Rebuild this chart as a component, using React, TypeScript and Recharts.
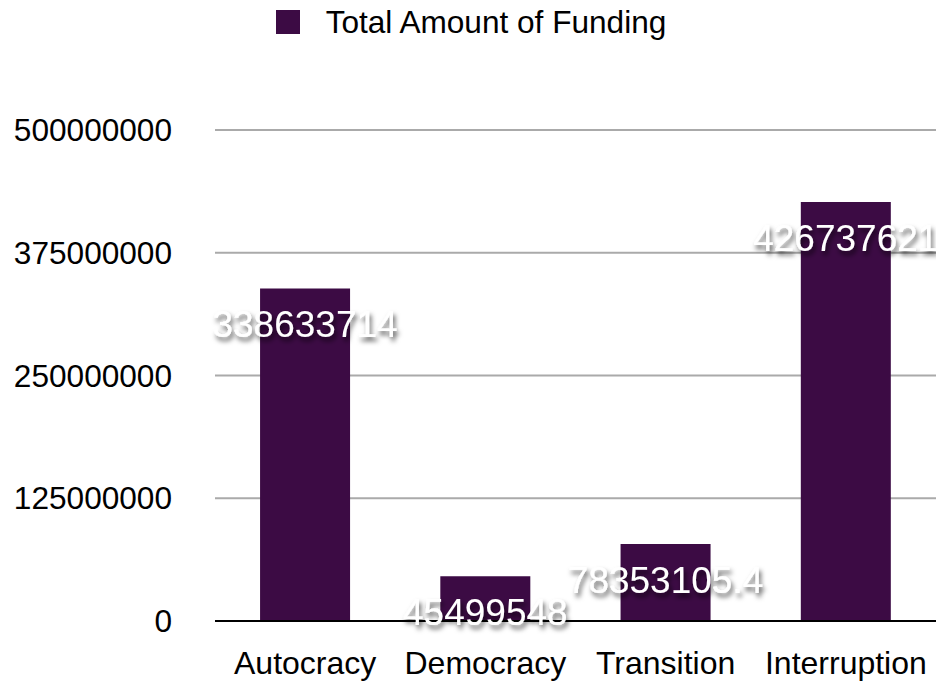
import { BarChart, Bar, CartesianGrid, XAxis, YAxis, Legend, LabelList } from 'recharts';

const categories = ['Autocracy', 'Democracy', 'Transition', 'Interruption'];
const funding = [338633714, 45499548, 78353105.4, 426737621];
const yTicks = [0, 125000000, 250000000, 375000000, 500000000];

const data = categories.map((name, i) => ({ name, funding: funding[i] }));

const FONT = '"Liberation Sans", Arial, Helvetica, sans-serif';
const BAR_COLOR = '#3c0b44';

const renderLabel = (props: any) => {
    const { x, y, width, value } = props;
    return (
        <text
            x={Number(x) + Number(width) / 2}
            y={Number(y) + 49}
            textAnchor="middle"
            fill="#ffffff"
            fontSize={37}
            fontFamily={FONT}
            filter="url(#labelShadow)"
        >
            {value}
        </text>
    );
};

const renderLegend = () => (
    <div style={{ display: 'flex', alignItems: 'center', justifyContent: 'center', height: 44, paddingLeft: 6, fontFamily: FONT }}>
        <span style={{ display: 'inline-block', width: 24, height: 24, background: BAR_COLOR, marginRight: 26 }} />
        <span style={{ fontSize: 31.6, color: '#000' }}>Total Amount of Funding</span>
    </div>
);

export default function App() {
    return (
        <div style={{ position: 'absolute', left: 0, top: 0 }}>
            <BarChart width={936} height={681} data={data} barCategoryGap="25%"
                margin={{ top: 86, right: 0, bottom: 0, left: 0 }}>
                <defs>
                    <filter id="labelShadow" x="-20%" y="-50%" width="140%" height="200%">
                        <feDropShadow dx="2" dy="4" stdDeviation="2.5" floodColor="#000" floodOpacity="0.65" />
                    </filter>
                </defs>
                <Legend verticalAlign="top" align="center" height={44} content={renderLegend}
                    wrapperStyle={{ top: 0 }} />
                <CartesianGrid vertical={false} stroke="#aaaaaa" strokeWidth={2} />
                <XAxis dataKey="name" height={60} tickLine={false} tickSize={0} tickMargin={30}
                    axisLine={{ stroke: '#000', strokeWidth: 2 }}
                    tick={{ fill: '#000', fontSize: 32, fontFamily: FONT }} />
                <YAxis width={215} domain={[0, 500000000]} ticks={yTicks} axisLine={false}
                    tickLine={false} tickSize={0} tickMargin={43} interval={0}
                    tick={{ fill: '#000', fontSize: 31.6, fontFamily: FONT }} />
                <Bar dataKey="funding" fill={BAR_COLOR} isAnimationActive={false}>
                    <LabelList dataKey="funding" content={renderLabel} />
                </Bar>
            </BarChart>
        </div>
    );
}
